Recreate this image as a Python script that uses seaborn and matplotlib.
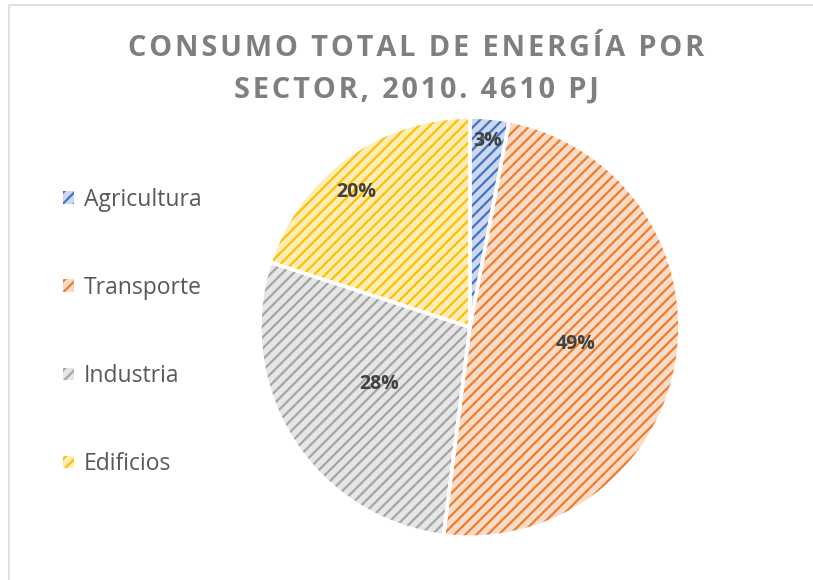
import matplotlib
matplotlib.use("Agg")
import matplotlib.pyplot as plt
import numpy as np
import seaborn as sns
from matplotlib.patches import Rectangle
from matplotlib.colors import to_rgb

sectores = ["Agricultura", "Transporte", "Industria", "Edificios"]
porcentajes = [3, 49, 28, 20]
colores = ["#4472C4", "#ED7D31", "#A5A5A5", "#FFC000"]
titulo_1 = "CONSUMO TOTAL DE ENERGÍA POR"
titulo_2 = "SECTOR, 2010. 4610 PJ"


def aclarar(c, f=0.72):
    r = np.array(to_rgb(c))
    return tuple(r + (1 - r) * f)


def espaciar(s):
    return "\u200a".join(s)


sns.set_theme(style="white")
plt.rcParams["font.family"] = ["Open Sans", "DejaVu Sans"]
plt.rcParams["hatch.linewidth"] = 1.6

fig = plt.figure(figsize=(8.13, 5.8), dpi=100)
fig.patch.set_facecolor("white")
# chart-area border
fig.patches.append(Rectangle((9 / 813, -0.1), 1.2, 1 - 5 / 580 + 0.1, transform=fig.transFigure,
                             fill=False, edgecolor="#D9D9D9", lw=1.2))

ax = fig.add_axes([0.578 - 0.2583, 0.436 - 0.362, 0.5166, 0.724])
pal = sns.color_palette(colores)
fondos = [aclarar(c) for c in pal]

wedges, _ = ax.pie(porcentajes, colors=fondos, startangle=90, counterclock=False,
                   wedgeprops=dict(linewidth=0))
for w, c in zip(wedges, pal):
    w.set_hatch("///")
    w.set_edgecolor(c)
# white separators
ax.pie(porcentajes, startangle=90, counterclock=False,
       wedgeprops=dict(fill=False, edgecolor="white", linewidth=2.5))
ax.set_xlim(-1.0, 1.0)
ax.set_ylim(-1.0, 1.0)
ax.axis("off")

dist = [0.89, 0.51, 0.51, 0.84]
giro = [0, 0, 0, 4]
for w, p, d, g in zip(wedges, porcentajes, dist, giro):
    ang = np.deg2rad((w.theta1 + w.theta2) / 2 + g)
    ax.text(d * np.cos(ang), d * np.sin(ang), f"{p}%", ha="center", va="center",
            fontsize=14, fontweight="bold", color="#404040")

fig.text(0.512, 0.916, espaciar(titulo_1), ha="center", va="center",
         fontsize=20.8, fontweight="bold", color="#7F7F7F")
fig.text(0.512, 0.845, espaciar(titulo_2), ha="center", va="center",
         fontsize=20.8, fontweight="bold", color="#7F7F7F")

fig.legend(wedges, sectores, loc="center left", bbox_to_anchor=(0.078, 0.428),
           frameon=False, fontsize=16.5, labelcolor="#595959", handlelength=0.45,
           handleheight=0.45, handletextpad=0.45, labelspacing=2.8,
           borderpad=0, borderaxespad=0)

fig.savefig("out.png", dpi=100)
